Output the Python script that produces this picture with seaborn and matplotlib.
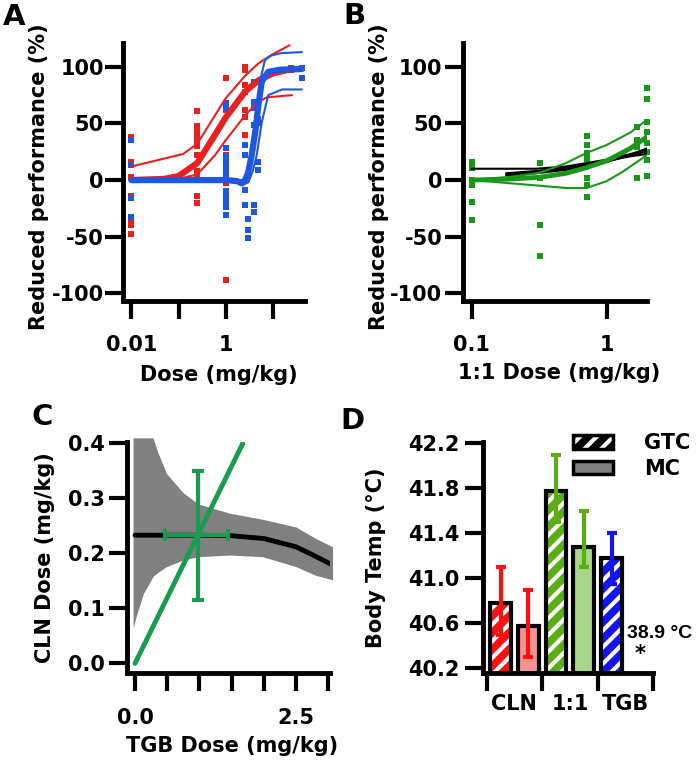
import pandas as pd
import matplotlib.pyplot as plt
from matplotlib.patches import Patch, Rectangle
from matplotlib.ticker import FixedLocator, NullLocator
import seaborn as sns

# ---- A: dose response, CLN (red) and TGB (blue)
cln_dose = [0.01, 0.01, 0.01, 0.01, 0.01, 0.01, 0.01,
            0.25, 0.25, 0.25, 0.25, 0.25, 0.25, 0.25, 0.25, 0.25, 0.25, 0.25, 0.25,
            1, 1, 1, 1, 1, 1,
            2.6, 2.6, 2.6, 2.6, 2.6, 2.6, 2.6,
            25, 25]
cln_resp = [38, 16, 3, -14, -37, -40, -48,
            61, 48, 44, 40, 36, 33, 30, 22, 8, 4, -14, -20,
            90, 62, 22, 20, -3, -88,
            100, 97, 84, 78, 62, 56, 40,
            99, 97]
tgb_dose = [0.01, 0.01, 0.01, 0.01,
            1, 1, 1, 1, 1, 1, 1, 1, 1, 1, 1, 1, 1,
            2.6, 2.6, 2.6, 2.6,
            3.06, 3.06, 3.06,
            4.1, 4.1, 4.1, 4.1, 4.1, 4.1,
            5.0, 5.0, 5.0, 5.0,
            42, 42]
tgb_resp = [35, 13, -16, -33,
            68, 63, 28, 21, 16, 12, 7, 3, -10, -15, -19, -24, -31,
            31, 22, -9, -22,
            -34, -44, -51,
            87, 69, 64, 49, -22, -28,
            54, 50, 16, 9,
            99, 90]

cln_fit_x = [0.01, 0.05, 0.1, 0.25, 0.6, 1, 2.6, 5, 10, 20]
cln_fit_y = [0, 1, 3.5, 15, 40, 55, 78, 88, 94, 97]
cln_hi_x = [0.01, 0.125, 0.25, 0.5, 1, 2.6, 5, 10, 23]
cln_hi_y = [12, 23, 32, 52, 72, 92, 103, 111, 119]
cln_lo_x = [0.01, 0.1, 0.25, 0.6, 1, 2.6, 4.6, 7.5, 26]
cln_lo_y = [0, 1, 5, 22, 35, 57, 68, 73, 75]

tgb_fit_x = [0.01, 0.1, 1, 1.8, 2.2, 2.6, 3.0, 3.6, 4.3, 5.0, 5.9, 8.1, 15, 42]
tgb_fit_y = [0, 0, 0, -1, -3, 0, 6, 22, 43, 66, 87, 95.5, 97.5, 98]
tgb_hi_x = [0.01, 1, 1.8, 2.4, 2.8, 3.5, 4.3, 5.4, 6.9, 9.5, 15, 42]
tgb_hi_y = [0, 0, 0, 0, 4, 25, 51, 87, 106, 110, 112, 113]
tgb_lo_x = [0.01, 1, 1.8, 2.4, 3.06, 3.8, 4.6, 5.9, 8.1, 16, 42]
tgb_lo_y = [0, 0, -1, -4, -2, 8, 22, 51, 75, 80, 80]

# ---- B: 1:1 mixture
mix_dose = [0.1, 0.1, 0.1, 0.1, 0.1, 0.1, 0.1,
            0.32, 0.32, 0.32, 0.32,
            0.71, 0.71, 0.71, 0.71, 0.71, 0.71, 0.71,
            1.68, 1.68, 1.68, 1.68,
            1.98, 1.98, 1.98, 1.98, 1.98, 1.98, 1.98, 1.98]
mix_resp = [16, 13, 10.6, 0, -4.4, -19, -35,
            15, 2, -40, -67,
            39, 31, 23.5, 19, 2, -4, -15,
            47, 35, 29, 2,
            81, 72, 51, 42, 33, 25, 18, 4]
mix_fit_x = [0.1, 0.2, 0.32, 0.5, 0.71, 1, 1.5, 1.98]
mix_fit_y = [0, 1, 2.5, 6, 11, 17, 28, 38]
mix_hi_y = [0, 3, 6.5, 15, 24, 31, 42, 53]
mix_lo_x = [0.1, 0.2, 0.32, 0.5, 0.71, 1, 1.3, 1.68, 1.98]
mix_lo_y = [0, -3, -5, -7, -7, -1, 7, 16, 22]
add_x = [0.18, 0.3, 0.5, 0.71, 1, 1.5, 1.98]
add1_y = [5, 7, 10, 13, 17, 22, 25]
add2_y = [4, 6, 9, 12, 16, 22, 28]
add3_y = [6, 8, 11, 14, 17, 21, 23]
add0_x = [0.1, 0.3, 0.5, 0.71, 1, 1.5, 1.98]
add0_y = [10, 10, 12, 15, 18, 23, 27]

# ---- C: isobologram
band_x = [-0.03, 0.03, 0.13, 0.28, 0.35, 0.49, 0.75, 0.98, 1.47, 1.98, 2.5, 2.81, 3.07]
band_hi = [0.41, 0.41, 0.41, 0.41, 0.385, 0.345, 0.31, 0.29, 0.273, 0.262, 0.248, 0.227, 0.212]
band_lo = [0.064, 0.09, 0.127, 0.158, 0.165, 0.176, 0.188, 0.194, 0.197, 0.194, 0.176, 0.16, 0.152]
iso_x = [0, 0.5, 1.0, 1.5, 2.0, 2.5, 2.8, 3.05]
iso_y = [0.233, 0.233, 0.233, 0.232, 0.227, 0.212, 0.195, 0.18]
ray_x = [0, 1.675]
ray_y = [0, 0.4]
mix_tgb, mix_tgb_lo, mix_tgb_hi = 0.98, 0.47, 1.44
mix_cln, mix_cln_lo, mix_cln_hi = 0.233, 0.115, 0.35

# ---- D: body temperature
groups = ['CLN', 'CLN', '1:1', '1:1', 'TGB']
seizure = ['GTC', 'MC', 'GTC', 'MC', 'GTC']
temp = [40.78, 40.58, 41.78, 41.28, 41.18]
temp_lo = [40.5, 40.3, 41.5, 41.1, 40.95]
temp_hi = [41.1, 40.9, 42.1, 41.6, 41.4]

sns.set_style('ticks')
plt.rcParams['font.family'] = ['DejaVu Sans']
plt.rcParams['font.weight'] = 'bold'
plt.rcParams['axes.labelweight'] = 'bold'
plt.rcParams['axes.unicode_minus'] = False
plt.rcParams['hatch.linewidth'] = 3.0
for k in ('text.color', 'axes.labelcolor', 'xtick.color', 'ytick.color'):
    plt.rcParams[k] = 'black'

red, blue = '#e8201f', '#1f57e0'
green_b, green_c = '#1a961a', '#1b9a52'

W, H = 697, 760
fig = plt.figure(figsize=(6.97, 7.6), dpi=100)


def box(l, r, b, t):
    return [l / W, 1 - b / H, (r - l) / W, (b - t) / H]


def style(ax, xpad, ypad):
    sns.despine(ax=ax)
    for s in ('left', 'bottom'):
        ax.spines[s].set_linewidth(3.5)
        ax.spines[s].set_color('black')
    ax.tick_params(which='major', width=3, length=13, color='black',
                   labelsize=15, direction='out')
    ax.tick_params(axis='x', pad=xpad)
    ax.tick_params(axis='y', pad=ypad)


# A
axA = fig.add_axes(box(123.3, 305, 300.7, 43))
sns.scatterplot(x=cln_dose, y=cln_resp, color=red, marker='s', s=14, linewidth=0, ax=axA)
sns.scatterplot(x=tgb_dose, y=tgb_resp, color=blue, marker='s', s=14, linewidth=0, ax=axA)
sns.lineplot(x=cln_hi_x, y=cln_hi_y, color=red, linewidth=1.5, errorbar=None, ax=axA)
sns.lineplot(x=cln_lo_x, y=cln_lo_y, color=red, linewidth=1.5, errorbar=None, ax=axA)
sns.lineplot(x=cln_fit_x, y=cln_fit_y, color=red, linewidth=4.5, errorbar=None, ax=axA)
sns.lineplot(x=tgb_hi_x, y=tgb_hi_y, color=blue, linewidth=1.5, errorbar=None, ax=axA)
sns.lineplot(x=tgb_lo_x, y=tgb_lo_y, color=blue, linewidth=1.5, errorbar=None, ax=axA)
sns.lineplot(x=tgb_fit_x, y=tgb_fit_y, color=blue, linewidth=4.5, errorbar=None, ax=axA)
axA.set_xscale('log')
axA.set_xlim(0.0067, 49)
axA.set_ylim(-106.5, 121)
axA.xaxis.set_major_locator(FixedLocator([0.01, 0.1, 1, 10]))
axA.xaxis.set_minor_locator(NullLocator())
axA.set_xticklabels(['0.01', '', '1', ''])
axA.set_yticks([-100, -50, 0, 50, 100])
style(axA, 12, 1)
axA.set_xlabel('Dose (mg/kg)', fontsize=15)
axA.set_ylabel('Reduced performance (%)', fontsize=15)
axA.xaxis.set_label_coords(0.527, -0.25)
axA.yaxis.set_label_coords(-0.41, 0.48)

# B
axB = fig.add_axes(box(463.3, 646.7, 300.7, 43))
sns.scatterplot(x=mix_dose, y=mix_resp, color=green_b, marker='s', s=14, linewidth=0,
                clip_on=False, ax=axB)
sns.lineplot(x=add0_x, y=add0_y, color='black', linewidth=1.5, errorbar=None, ax=axB)
for ys in (add1_y, add2_y, add3_y):
    sns.lineplot(x=add_x, y=ys, color='black', linewidth=1.5, errorbar=None, ax=axB)
sns.lineplot(x=mix_fit_x, y=mix_hi_y, color=green_b, linewidth=1.5, errorbar=None, ax=axB)
sns.lineplot(x=mix_lo_x, y=mix_lo_y, color=green_b, linewidth=1.5, errorbar=None, ax=axB)
sns.lineplot(x=mix_fit_x, y=mix_fit_y, color=green_b, linewidth=3.5, errorbar=None, ax=axB)
axB.set_xscale('log')
axB.set_xlim(0.0867, 1.98)
axB.set_ylim(-106.5, 121)
axB.xaxis.set_major_locator(FixedLocator([0.1, 1]))
axB.xaxis.set_minor_locator(NullLocator())
axB.set_xticklabels(['0.1', '1'])
axB.set_yticks([-100, -50, 0, 50, 100])
style(axB, 12, 2)
axB.set_xlabel('1:1 Dose (mg/kg)', fontsize=15)
axB.set_ylabel('Reduced performance (%)', fontsize=15)
axB.xaxis.set_label_coords(0.522, -0.243)
axB.yaxis.set_label_coords(-0.405, 0.48)

# C
axC = fig.add_axes(box(126.7, 330, 673.3, 441.7))
axC.fill_between(band_x, band_lo, band_hi, color='#808080', linewidth=0, clip_on=False)
sns.lineplot(x=iso_x, y=iso_y, color='black', linewidth=3.5, errorbar=None, ax=axC)
sns.lineplot(x=ray_x, y=ray_y, color=green_c, linewidth=3.5, errorbar=None, ax=axC)
axC.errorbar([mix_tgb], [mix_cln],
             xerr=[[mix_tgb - mix_tgb_lo], [mix_tgb_hi - mix_tgb]],
             yerr=[[mix_cln - mix_cln_lo], [mix_cln_hi - mix_cln]],
             fmt='none', ecolor=green_c, elinewidth=3, capsize=4.5, capthick=3)
axC.set_xlim(-0.129, 3.03)
axC.set_ylim(-0.018, 0.403)
axC.set_xticks([0, 0.5, 1.0, 1.5, 2.0, 2.5, 3.0])
axC.set_xticklabels(['0.0', '', '', '', '', '2.5', ''])
axC.set_yticks([0, 0.1, 0.2, 0.3, 0.4])
axC.set_yticklabels(['0.0', '0.1', '0.2', '0.3', '0.4'])
style(axC, 12, 3)
axC.set_xlabel('TGB Dose (mg/kg)', fontsize=15)
axC.set_ylabel('CLN Dose (mg/kg)', fontsize=15)
axC.xaxis.set_label_coords(0.518, -0.27)
axC.yaxis.set_label_coords(-0.355, 0.5)

# D
temps = pd.DataFrame({'group': groups, 'seizure': seizure, 'temp': temp})
axD = fig.add_axes(box(483.3, 653.3, 673.3, 441.7))
sns.barplot(data=temps, x='group', y='temp', hue='seizure', order=['CLN', '1:1', 'TGB'],
            hue_order=['GTC', 'MC'], width=1.0, gap=0.25, errorbar=None, legend=False, ax=axD)
bar_colors = ['#ff1010', '#f59292', '#5cad14', '#a9d68a', '#1414f0']
err_colors = ['#ff1010', '#ff1010', '#5cad14', '#5cad14', '#1414f0']
bars = sorted([p for p in axD.patches if p.get_height() > 0], key=lambda p: p.get_x())
for i, p in enumerate(bars):
    if seizure[i] == 'GTC':
        p.set_facecolor(bar_colors[i])
        p.set_edgecolor('white')
        p.set_hatch('//')
    else:
        p.set_facecolor(bar_colors[i])
        p.set_edgecolor(bar_colors[i])
    p.set_linewidth(0)
    axD.add_patch(Rectangle(p.get_xy(), p.get_width(), p.get_height(), fill=False,
                            edgecolor='black', linewidth=3, zorder=3))
    xc = p.get_x() + p.get_width() / 2
    axD.errorbar([xc], [temp[i]], yerr=[[temp[i] - temp_lo[i]], [temp_hi[i] - temp[i]]],
                 fmt='none', ecolor=err_colors[i], elinewidth=3, capsize=3.5, capthick=3,
                 zorder=4)
axD.set_xlim(-0.56, 2.5)
axD.set_ylim(40.156, 42.214)
axD.set_yticks([40.2, 40.6, 41.0, 41.4, 41.8, 42.2])
axD.set_yticklabels(['40.2', '40.6', '41.0', '41.4', '41.8', '42.2'])
style(axD, 12, 4)
axD.set_xticks([-0.5, 0.5, 1.5, 2.5])
axD.set_xticklabels(['', '', '', ''])
axD.set_xticks([0, 1, 2], minor=True)
axD.set_xticklabels(['CLN', '1:1', 'TGB'], minor=True)
axD.tick_params(axis='x', which='minor', length=0, pad=15, labelsize=15)
axD.set_xlabel('')
axD.set_ylabel('Body Temp (°C)', fontsize=15)
axD.yaxis.set_label_coords(-0.57, 0.5)
axD.text(2.02, 40.514, '38.9 °C', fontsize=14, family=['Liberation Sans', 'DejaVu Sans'],
         ha='left', va='center', clip_on=False)
axD.text(2.26, 40.33, '*', fontsize=15, ha='center', va='center', clip_on=False)
gtc_handle = (Patch(facecolor='black', edgecolor='white', hatch='//', linewidth=0),
              Patch(facecolor='none', edgecolor='black', linewidth=2.5))
mc_handle = Patch(facecolor='#808080', edgecolor='black', linewidth=2.5)
axD.legend([gtc_handle, mc_handle], ['GTC', 'MC'], loc='upper left',
           bbox_to_anchor=(0.528, 1.036), frameon=False, fontsize=15, handlelength=1.9,
           handleheight=0.6, handletextpad=1.5, labelspacing=0.25, borderpad=0,
           borderaxespad=0)

# panel letters
for letter, x, y in [('A', 14, 17), ('B', 354, 16), ('C', 42, 417), ('D', 352, 421)]:
    fig.text(x / W, 1 - y / H, letter, fontsize=21, ha='center', va='center')

fig.savefig('out.png', dpi=100)
